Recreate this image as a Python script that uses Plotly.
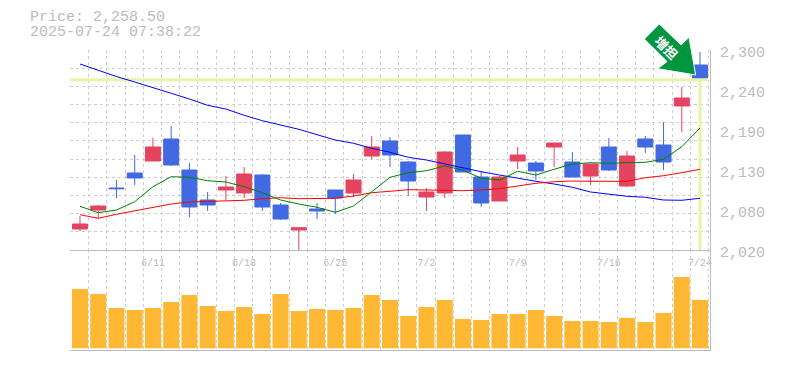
import plotly.graph_objects as go

dates = ["6/5","6/6","6/9","6/10","6/11","6/12","6/13","6/16","6/17","6/18","6/19","6/20","6/23","6/24","6/25","6/26","6/27",
         "6/30","7/1","7/2","7/3","7/4","7/7","7/8","7/9","7/10","7/11","7/14","7/15","7/16","7/17","7/18","7/22","7/23","7/24"]
label_idx = [4, 9, 14, 19, 24, 29, 34]
opens = [2049.4,2076,2106.8,2127.8,2144.6,2175.4,2132,2090,2104,2099.8,2125,2083,2048,2077.4,2104,2099.8,2151.6,2172.6,2143.2,2094.2,
         2099.8,2181,2122.2,2088.6,2144.6,2141.8,2164.2,2143.2,2123.6,2164.2,2109.6,2175.4,2167,2221.6,2279]
highs = [2067.6,2083,2118,2153,2176.8,2193.6,2141.8,2101.2,2123.6,2136.2,2126.4,2085.8,2051.2,2085.8,2104,2126.4,2179.6,2178.2,2144.6,2106.8,
         2158.6,2181,2130.6,2123.6,2164.2,2144.6,2169.8,2157.2,2140.4,2176.8,2158.6,2179.6,2199.2,2248.2,2297.2]
lows = [2046.6,2064.4,2092.8,2111,2144.6,2137.6,2066.2,2074.6,2090,2092.8,2074.6,2062,2019,2063.4,2070.4,2094.2,2147.4,2136.2,2095.6,2074.6,
        2092.8,2129.2,2080.2,2088.6,2133.4,2118,2136.2,2122.2,2111,2130.6,2108.2,2155.8,2132,2185.2,2258.5]
closes = [2056.4,2081.6,2105.8,2120.8,2164.2,2139,2080.2,2083,2108.2,2126.4,2080.2,2063.4,2051.2,2074.6,2092.8,2118,2164.2,2153,2116.6,2101.2,
          2157.2,2129.2,2085.8,2122.2,2153,2130.6,2169.8,2122.2,2140.4,2132,2151.6,2164.2,2143.2,2232.8,2258.5]
ma_short = [2081.2,2072.2,2076,2087.6,2108.6,2122.6,2121.8,2117,2115.2,2108.6,2100.2,2090,2084.4,2079.8,2072.8,2081.6,2101.6,2121.8,2128.2,2131,
            2137.6,2132,2120.4,2118,2130.2,2125,2133,2140.4,2142.2,2141.4,2142.2,2142.8,2147,2164.6,2190.8]
ma_mid = [2069.4,2064.4,2070,2075,2079.2,2084.4,2087.2,2088.2,2088.2,2089.6,2091.8,2093.2,2091.8,2091.8,2092.4,2095.6,2100.2,2102.2,2104.4,2104,
          2103,2103,2104,2105.8,2109.6,2113.4,2115.6,2116.6,2116.2,2116.2,2116.2,2121.2,2124,2128.2,2133]
ma_long = [2280.4,2271.3,2262.9,2255.2,2246.8,2239.4,2231.4,2222.6,2217.4,2208.6,2201,2195.4,2189,2181.4,2174,2169.4,2162.4,2156.8,2149.8,2146,
           2140.4,2135.2,2129.6,2125,2120.4,2116.2,2112.4,2107.8,2101.2,2098,2095.2,2093.8,2090,2089.6,2092.4]
volume = [59300,54300,40300,38300,40300,46300,53300,42300,37300,41300,34300,54300,37300,39300,38300,40300,53300,48300,32300,41300,
          48300,29300,28300,34300,34300,38300,32300,27300,27300,26300,30300,26300,35300,71300,48300]
price = 2258.5
stamp = "2025-07-24 07:38:22"
price_ticks = [2300, 2244, 2188, 2132, 2076, 2020]
price_labels = ["2,300", "2,240", "2,190", "2,130", "2,080", "2,020"]

GREY = "#bcbcbc"
GRID = "#cfcfcf"
FONT = "Liberation Mono"
BLUE = "#4169e1"
RED = "#e54461"
x = list(range(len(dates)))
XR = [-0.548, 34.548]
edges = [i - 0.53 for i in range(len(dates) + 1)]
ygrid = [2300 - 280 * k / 11 for k in range(12)]
DASH = "3px,3px"
W, H, L, R, T, B = 785, 370, 70, 75, 50, 20
PW, PH = W - L - R, H - T - B
px = lambda v: (v - L) / PW
py = lambda v: 1 - (v - T) / PH

fig = go.Figure()
fig.add_trace(go.Scatter(x=[XR[0], x[-1] + 0.44], y=[price, price], mode="lines", line=dict(color="#e4f5a8", width=3), hoverinfo="skip"))
fig.add_trace(go.Scatter(x=[x[-1], x[-1]], y=[price, 2020], mode="lines", line=dict(color="#e4f5a8", width=3), hoverinfo="skip"))
fig.add_trace(go.Candlestick(x=x, open=opens, high=highs, low=lows, close=closes, whiskerwidth=0,
    increasing=dict(line=dict(color=RED, width=1), fillcolor=RED),
    decreasing=dict(line=dict(color=BLUE, width=1), fillcolor=BLUE)))
fig.add_trace(go.Scatter(x=x, y=ma_long, mode="lines", line=dict(color="#0000ff", width=1)))
fig.add_trace(go.Scatter(x=x, y=ma_mid, mode="lines", line=dict(color="#ff0000", width=1)))
fig.add_trace(go.Scatter(x=x, y=ma_short, mode="lines", line=dict(color="#008000", width=1)))
fig.add_trace(go.Bar(x=x, y=volume, xaxis="x2", yaxis="y2", marker=dict(color="#ffb833", line=dict(width=0)), width=0.88))

def xax(**kw):
    return dict(range=XR, showgrid=False, zeroline=False, showline=True, linecolor=GREY, linewidth=1, ticks="",
                minor=dict(tickvals=edges, showgrid=True, gridcolor=GRID, griddash=DASH, gridwidth=1, ticks=""), **kw)

fig.update_layout(
    width=W, height=H, margin=dict(l=L, r=R, t=T, b=B, pad=0, autoexpand=False),
    paper_bgcolor="white", plot_bgcolor="rgba(0,0,0,0)", showlegend=False, boxgap=0.178, boxgroupgap=0, bargap=0.12,
    xaxis=xax(domain=[0, 1], anchor="y", rangeslider=dict(visible=False), tickmode="array",
              tickvals=label_idx, ticktext=[dates[i] for i in label_idx], ticklabelstandoff=3,
              tickfont=dict(family=FONT, size=10, color=GREY)),
    xaxis2=xax(domain=[0, 1], anchor="y2", showticklabels=False, tickvals=label_idx),
    yaxis=dict(domain=[1 / 3, 1], range=[2020, 2300], side="right", anchor="x", tickmode="array", tickvals=ygrid,
               showticklabels=False, ticks="", showgrid=True, gridcolor=GRID, griddash=DASH, gridwidth=1,
               zeroline=False, showline=True, linecolor=GREY, linewidth=1),
    yaxis2=dict(domain=[0, 1 / 3], range=[-1700, 98300], side="right", anchor="x2", showticklabels=False, ticks="",
                showgrid=False, zeroline=False, showline=True, linecolor=GREY, linewidth=1),
    shapes=[dict(type="path", xref="paper", yref="paper", layer="above", fillcolor="#00963f", line=dict(color="white", width=1),
                 path="M {} {} L {} {} L {} {} L {} {} L {} {} L {} {} L {} {} Z".format(
                     px(659.3), py(24), px(644.3), py(39), px(667), py(61.5), px(657.7), py(68.7),
                     px(695.7), py(75), px(689), py(37.3), px(681), py(45)))],
    annotations=[
        dict(text=f"Price: {price:,.2f}", xref="paper", yref="paper", x=px(29), y=py(18), xanchor="left", yanchor="middle",
             showarrow=False, borderpad=0, font=dict(family=FONT, size=15, color=GREY)),
        dict(text=stamp, xref="paper", yref="paper", x=px(29), y=py(32.5), xanchor="left", yanchor="middle",
             showarrow=False, borderpad=0, font=dict(family=FONT, size=15, color=GREY)),
        dict(text="<b>増担</b>", xref="paper", yref="paper", x=px(667), y=py(47), xanchor="center", yanchor="middle",
             showarrow=False, textangle=45, font=dict(family="Noto Sans CJK JP", size=13, color="white")),
    ] + [dict(text=t, xref="paper", yref="y", x=px(719), y=v, xanchor="left", yanchor="middle", yshift=-3, showarrow=False,
              borderpad=0, font=dict(family=FONT, size=15, color=GREY)) for v, t in zip(price_ticks, price_labels)],
)
fig.write_html("out.html", config={"displayModeBar": False}, post_script="document.body.style.margin='0';")
